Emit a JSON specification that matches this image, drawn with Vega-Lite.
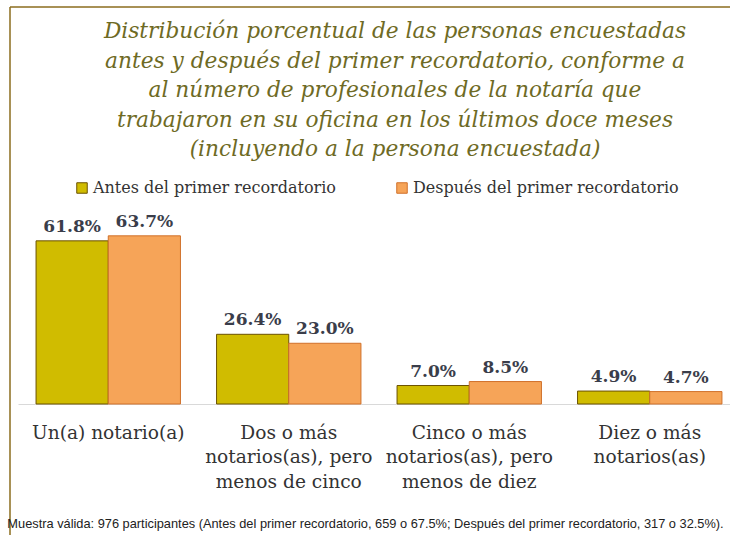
{
  "$schema": "https://vega.github.io/schema/vega-lite/v6.json",
  "width": 720,
  "height": 528,
  "autosize": {"type": "none"},
  "padding": {"left": 10, "top": 7, "right": 0, "bottom": 0},
  "background": "white",
  "config": {
    "view": {"stroke": "#8c6d1f", "strokeWidth": 1.5, "strokeDash": [720, 1248, 528, 0]}
  },
  "title": {
    "text": [
      "Distribución porcentual de las personas encuestadas",
      "antes y después del primer recordatorio, conforme a",
      "al número de profesionales de la notaría que",
      "trabajaron en su oficina en los últimos doce meses",
      "(incluyendo a la persona encuestada)"
    ],
    "font": "DejaVu Serif",
    "fontStyle": "italic",
    "fontWeight": "normal",
    "fontSize": 21.7,
    "color": "#6e6a24",
    "lineHeight": 29.5,
    "anchor": "middle",
    "frame": "group",
    "dx": 25,
    "offset": -154
  },
  "data": {
    "values": [
      {"categoria": "Un(a) notario(a)", "momento": "Antes del primer recordatorio", "pct": 0.618},
      {"categoria": "Un(a) notario(a)", "momento": "Después del primer recordatorio", "pct": 0.637},
      {"categoria": "Dos o más notarios(as), pero menos de cinco", "momento": "Antes del primer recordatorio", "pct": 0.264},
      {"categoria": "Dos o más notarios(as), pero menos de cinco", "momento": "Después del primer recordatorio", "pct": 0.230},
      {"categoria": "Cinco o más notarios(as), pero menos de diez", "momento": "Antes del primer recordatorio", "pct": 0.070},
      {"categoria": "Cinco o más notarios(as), pero menos de diez", "momento": "Después del primer recordatorio", "pct": 0.085},
      {"categoria": "Diez o más notarios(as)", "momento": "Antes del primer recordatorio", "pct": 0.049},
      {"categoria": "Diez o más notarios(as)", "momento": "Después del primer recordatorio", "pct": 0.047}
    ]
  },
  "encoding": {
    "x": {
      "field": "categoria",
      "type": "nominal",
      "sort": null,
      "scale": {"range": [8, 730], "paddingInner": 0.2, "paddingOuter": 0.1},
      "title": "Muestra válida: 976 participantes (Antes del primer recordatorio, 659 o 67.5%; Después del primer recordatorio, 317 o 32.5%).",
      "axis": {
        "orient": "bottom",
        "offset": -131,
        "domainColor": "#d9d9d9",
        "domainWidth": 1,
        "ticks": false,
        "grid": false,
        "labelAngle": 0,
        "labelFont": "DejaVu Serif",
        "labelFontSize": 18.6,
        "labelColor": "#333333",
        "labelPadding": 19,
        "labelBaseline": "top",
        "labelLineHeight": 24.5,
        "labelLimit": 0,
        "labelOverlap": false,
        "labelBound": false,
        "labelFlush": false,
        "labelExpr": "datum.value == 'Dos o más notarios(as), pero menos de cinco' ? ['Dos o más', 'notarios(as), pero', 'menos de cinco'] : datum.value == 'Cinco o más notarios(as), pero menos de diez' ? ['Cinco o más', 'notarios(as), pero', 'menos de diez'] : datum.value == 'Diez o más notarios(as)' ? ['Diez o más', 'notarios(as)'] : datum.value",
        "titleFont": "Liberation Sans",
        "titleFontSize": 12.8,
        "titleFontWeight": "normal",
        "titleColor": "#222222",
        "titleX": 355,
        "titleY": 123,
        "titleAlign": "center",
        "titleBaseline": "alphabetic",
        "titleAnchor": "start"
      }
    },
    "xOffset": {"field": "momento", "type": "nominal", "sort": ["Antes del primer recordatorio", "Después del primer recordatorio"]},
    "y": {
      "field": "pct",
      "type": "quantitative",
      "scale": {"domain": [0, 0.7], "range": [397, 212.2], "nice": false, "zero": true},
      "axis": null
    }
  },
  "layer": [
    {
      "mark": {"type": "bar", "strokeWidth": 1},
      "encoding": {
        "fill": {
          "field": "momento",
          "type": "nominal",
          "scale": {"domain": ["Antes del primer recordatorio", "Después del primer recordatorio"], "range": ["#d0bc00", "#f6a458"]},
          "legend": {
            "orient": "none",
            "legendX": 64,
            "legendY": 173,
            "direction": "horizontal",
            "title": null,
            "symbolType": "square",
            "symbolSize": 110,
            "symbolStrokeColor": "#6b5200",
            "symbolStrokeWidth": 1,
            "labelFont": "DejaVu Serif",
            "labelFontSize": 16,
            "labelColor": "#333333",
            "labelOffset": 3,
            "labelLimit": 0,
            "columnPadding": 58
          }
        },
        "stroke": {
          "field": "momento",
          "type": "nominal",
          "scale": {"domain": ["Antes del primer recordatorio", "Después del primer recordatorio"], "range": ["#6b5200", "#d0702a"]},
          "legend": null
        }
      }
    },
    {
      "mark": {"type": "text", "baseline": "bottom", "dy": -5, "font": "DejaVu Serif", "fontWeight": "bold", "fontSize": 17, "fill": "#3a3d4a"},
      "encoding": {
        "text": {"field": "pct", "type": "quantitative", "format": ".1%"}
      }
    }
  ]
}
